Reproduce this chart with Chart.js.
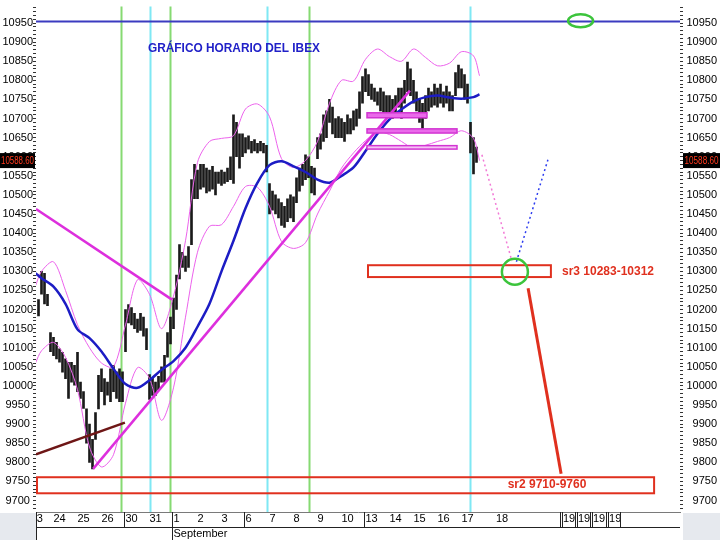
<!DOCTYPE html>
<html>
<head>
<meta charset="utf-8">
<title>Gráfico horario del IBEX</title>
<script src="https://cdn.jsdelivr.net/npm/chart.js@4/dist/chart.umd.min.js"></script>
<style>
  html, body { margin: 0; padding: 0; background: #fff; }
</style>
</head>
<body>
<canvas id="ibexChart" width="720" height="540"></canvas>
<script>
// x axis unit = one hourly bar (8 per session), 0 = first bar of 23 Aug
const firstBar = 3;

// hourly bars: highs and lows
const barHigh = [
  10226, 10300, 10295, 10240, 10140,                          // 23 Aug (last hours)
  10127, 10114, 10097, 10088, 10071, 10062, 10062, 10054,     // 24 Aug
  10088, 10010, 9985, 9940, 9900, 9860, 9930, 10028,          // 25 Aug
  10045, 10019, 10010, 10045, 10054, 10037, 10045, 10037,     // 26 Aug
  10200, 10213, 10205, 10190, 10175, 10190, 10180, 10150,     // 30 Aug
  10030, 10020, 10010, 10025, 10050, 10080, 10140, 10180,     // 31 Aug
  10230, 10290, 10370, 10350, 10340, 10365, 10540, 10580,     // 1 Sep
  10565, 10580, 10580, 10570, 10565, 10575, 10560, 10560,     // 2 Sep
  10565, 10560, 10570, 10600, 10710, 10690, 10660, 10660,     // 3 Sep
  10650, 10655, 10640, 10645, 10635, 10640, 10635, 10630,     // 6 Sep
  10530, 10510, 10500, 10490, 10480, 10470, 10490, 10500,     // 7 Sep
  10495, 10545, 10570, 10580, 10605, 10600, 10575, 10570,     // 8 Sep
  10650, 10660, 10710, 10720, 10750, 10730, 10700, 10705,     // 9 Sep
  10700, 10690, 10710, 10700, 10720, 10725, 10770, 10810,     // 10 Sep
  10830, 10815, 10790, 10780, 10770, 10780, 10770, 10760,     // 13 Sep
  10760, 10750, 10760, 10780, 10780, 10800, 10848, 10830,     // 14 Sep
  10800, 10770, 10750, 10740, 10760, 10780, 10770, 10790,     // 15 Sep
  10780, 10790, 10770, 10785, 10770, 10760, 10820, 10840,     // 16 Sep
  10830, 10815, 10790, 10690, 10650, 10625                    // 17 Sep
];
const barLow = [
  10183, 10240, 10215, 10210, 10090,
  10079, 10071, 10062, 10036, 10019, 9967, 10010, 10002,
  9985, 9967, 9941, 9850, 9800, 9783, 9860, 9940,
  9985, 9950, 9976, 9959, 9985, 9967, 9959, 9959,
  10090, 10165, 10160, 10150, 10140, 10145, 10130, 10095,
  9965, 9975, 9975, 9990, 10010, 10010, 10075, 10110,
  10150, 10200, 10280, 10310, 10300, 10310, 10370, 10490,
  10490, 10515, 10520, 10505, 10510, 10515, 10500, 10530,
  10525, 10530, 10535, 10540, 10530, 10600, 10570, 10600,
  10610, 10620, 10610, 10615, 10610, 10615, 10610, 10560,
  10450, 10460, 10450, 10440, 10420, 10415, 10430, 10440,
  10430, 10480, 10510, 10525, 10540, 10545, 10505, 10500,
  10595, 10620, 10640, 10650, 10690, 10660, 10650, 10650,
  10650, 10640, 10660, 10660, 10670, 10680, 10700, 10740,
  10770, 10760, 10750, 10745, 10735, 10720, 10710, 10700,
  10710, 10700, 10715, 10730, 10700, 10740, 10770, 10760,
  10740, 10720, 10690, 10670, 10700, 10720, 10730, 10735,
  10730, 10740, 10730, 10740, 10720, 10720, 10760, 10780,
  10780, 10750, 10740, 10610, 10555, 10585
];

// moving average and bands, read every 4 bars
const bandAt = [2, 4, 8, 12, 16, 20, 24, 28, 32, 36, 40, 44, 48, 52, 56, 60, 64, 68, 72, 76,
  80, 84, 88, 92, 96, 100, 104, 108, 112, 116, 120, 124, 128, 132, 136, 140, 144, 148, 150];
const maLine = [10295, 10282, 10260, 10215, 10148, 10125, 10090, 10045, 10005, 9995, 10015, 10042,
  10065, 10100, 10155, 10215, 10300, 10380, 10465, 10532, 10578, 10588, 10575, 10560, 10540, 10532,
  10550, 10572, 10615, 10660, 10698, 10724, 10745, 10756, 10760, 10755, 10752, 10756, 10763];
const bandUpper = [10262, 10300, 10325, 10250, 10160, 10100, 10060, 10050, 10160, 10278, 10240, 10150,
  10235, 10380, 10585, 10640, 10648, 10655, 10725, 10738, 10705, 10595, 10572, 10590, 10640, 10740,
  10800, 10798, 10855, 10882, 10862, 10850, 10882, 10860, 10838, 10845, 10875, 10864, 10812];
const bandLower = [10060, 10092, 10114, 10075, 9990, 9840, 9788, 9820, 9955, 10048, 10020, 9910,
  9995, 10180, 10350, 10418, 10422, 10470, 10522, 10520, 10470, 10378, 10360, 10375, 10450, 10510,
  10570, 10610, 10642, 10665, 10658, 10640, 10622, 10630, 10640, 10650, 10668, 10648, 10590];

// drawn lines: [bar, index] end points
const fallLine = [[2.17, 10463], [47.5, 10226]];
const riseLine = [[21.2, 9783], [126.8, 10773]];
const baseLine = [[2.17, 9821], [31.8, 9904]];
const topLevel = [[2.17, 10954], [216.83, 10954]];
const pathDown = [[150.8, 10605], [160.8, 10327]];
const pathUp = [[162.3, 10325], [172.8, 10592]];
const arrowSr2 = [[166.2, 10256], [177.2, 9770]];

// zones
const pinkFrom = [112.5, 112.5, 112.5];
const pinkTo = [132.5, 142.5, 142.5];
const pinkHigh = [10715, 10673, 10629];
const pinkLow = [10702, 10662, 10620];
const srNames = ['sr3 10283-10312', 'sr2 9710-9760'];
const srFrom = [112.5, 2.17];
const srTo = [173.8, 208.2];
const srHigh = [10316, 9761];
const srLow = [10285, 9719];
const srTextAt = [[177.5, 10300], [172.5, 9742]];

const greenMarks = [30.5, 46.7, 93.1];
const cyanMarks = [40.2, 79.3, 146.8];
const lastPrice = 10588.60;
const title = 'GRÁFICO HORARIO DEL IBEX';
const titleAt = [39.5, 10882];
const circleAt = [161.8, 10299];
const ovalAt = [183.7, 10955.7];

// axis labels
const dayTickAt = [2.4, 8, 16, 24, 32, 40, 48, 56, 64, 72, 80, 88, 96, 104, 112, 120, 128, 136, 144,
  155.5, 177.8, 182.8, 187.8, 193.2];
const dayTickText = ['3', '24', '25', '26', '30', '31', ['1', 'September'], '2', '3', '6', '7', '8', '9',
  '10', '13', '14', '15', '16', '17', '18', '19', '19', '19', '19'];
const weekBreaks = [31.5, 71.5, 111.5];
const monthBreak = 47.5;
const futureBreaks = [177.1, 182.1, 187.1, 192.4];
const futureEnd = 196.8;

const yTicks = [];
for (let v = 9680; v <= 10990; v += 10) yTicks.push(v);

const FONT = "'Liberation Sans', Arial, sans-serif";

const pts = arr => arr.map(p => ({ x: p[0], y: p[1] }));

function lineSet(arr, color, width, extra) {
  return Object.assign({
    type: 'line',
    data: pts(arr),
    borderColor: color,
    borderWidth: width,
    pointRadius: 0,
    fill: false,
    order: 3
  }, extra || {});
}

const overlay = {
  id: 'overlay',
  beforeDraw(chart) {
    const ctx = chart.ctx;
    ctx.save();
    ctx.fillStyle = '#ffffff';
    ctx.fillRect(0, 0, chart.width, chart.height);
    ctx.restore();
  },
  beforeDatasetsDraw(chart) {
    const { ctx, chartArea: a, scales: { x } } = chart;
    ctx.save();
    ctx.lineWidth = 2;
    const vline = (v, c) => {
      const px = Math.round(x.getPixelForValue(v)) + 0.5;
      ctx.strokeStyle = c;
      ctx.beginPath();
      ctx.moveTo(px, a.top);
      ctx.lineTo(px, a.bottom);
      ctx.stroke();
    };
    greenMarks.forEach(v => vline(v, '#86da72'));
    cyanMarks.forEach(v => vline(v, '#7fe8f4'));
    ctx.restore();
  },
  afterDatasetsDraw(chart) {
    const { ctx, chartArea: a, scales: { x, y } } = chart;
    ctx.save();
    ctx.beginPath();
    ctx.rect(a.left, a.top, a.right - a.left, a.bottom - a.top);
    ctx.clip();

    // magenta zones
    pinkFrom.forEach((f, k) => {
      const x0 = x.getPixelForValue(f), x1 = x.getPixelForValue(pinkTo[k]);
      const y0 = y.getPixelForValue(pinkHigh[k]), y1 = y.getPixelForValue(pinkLow[k]);
      ctx.fillStyle = k < 2 ? '#ea6aea' : '#f5c2f5';
      ctx.fillRect(x0, y0, x1 - x0, y1 - y0);
      ctx.strokeStyle = '#d235d2';
      ctx.lineWidth = 1.5;
      ctx.strokeRect(x0, y0, x1 - x0, y1 - y0);
    });

    // support boxes
    ctx.strokeStyle = '#e0301e';
    ctx.lineWidth = 2;
    srFrom.forEach((f, k) => {
      const x0 = x.getPixelForValue(f), x1 = x.getPixelForValue(srTo[k]);
      const y0 = y.getPixelForValue(srHigh[k]), y1 = y.getPixelForValue(srLow[k]);
      ctx.strokeRect(x0 + 1, y0, x1 - x0 - 1, y1 - y0);
    });

    ctx.fillStyle = '#e0301e';
    ctx.font = 'bold 12px ' + FONT;
    ctx.textBaseline = 'middle';
    ctx.textAlign = 'left';
    ctx.fillText(srNames[0], x.getPixelForValue(srTextAt[0][0]), y.getPixelForValue(srTextAt[0][1]), 92);
    ctx.textAlign = 'center';
    ctx.fillText(srNames[1], x.getPixelForValue(srTextAt[1][0]), y.getPixelForValue(srTextAt[1][1]), 80);

    // title
    ctx.fillStyle = '#2121c8';
    ctx.textAlign = 'left';
    ctx.fillText(title, x.getPixelForValue(titleAt[0]), y.getPixelForValue(titleAt[1]), 172);

    // green marks
    ctx.strokeStyle = '#3cc43c';
    ctx.lineWidth = 2.5;
    ctx.beginPath();
    ctx.arc(x.getPixelForValue(circleAt[0]), y.getPixelForValue(circleAt[1]), 13, 0, Math.PI * 2);
    ctx.stroke();
    ctx.beginPath();
    ctx.ellipse(x.getPixelForValue(ovalAt[0]), y.getPixelForValue(ovalAt[1]), 12.5, 6.5, 0, 0, Math.PI * 2);
    ctx.stroke();
    ctx.restore();
  },
  afterDraw(chart) {
    const { ctx, chartArea: a, scales: { x, y } } = chart;
    ctx.save();

    // corners under the side axes
    ctx.fillStyle = '#e6e9ee';
    ctx.fillRect(0, a.bottom + 1, a.left, chart.height - a.bottom);
    ctx.fillRect(a.right + 3, a.bottom + 1, chart.width - a.right - 3, chart.height - a.bottom);

    // date ruler
    ctx.strokeStyle = '#222';
    ctx.lineWidth = 1;
    const mid = a.bottom + 15.5;
    ctx.beginPath();
    ctx.moveTo(a.left, mid);
    ctx.lineTo(a.right, mid);
    ctx.moveTo(a.left + 0.5, a.bottom);
    ctx.lineTo(a.left + 0.5, chart.height);
    weekBreaks.forEach(v => {
      const px = Math.round(x.getPixelForValue(v)) + 0.5;
      ctx.moveTo(px, a.bottom);
      ctx.lineTo(px, mid);
    });
    const mpx = Math.round(x.getPixelForValue(monthBreak)) + 0.5;
    ctx.moveTo(mpx, a.bottom);
    ctx.lineTo(mpx, chart.height);
    futureBreaks.forEach(v => {
      const px = Math.round(x.getPixelForValue(v)) + 0.5;
      ctx.moveTo(px - 1, a.bottom);
      ctx.lineTo(px - 1, mid);
      ctx.moveTo(px + 1, a.bottom);
      ctx.lineTo(px + 1, mid);
    });
    const epx = Math.round(x.getPixelForValue(futureEnd)) + 0.5;
    ctx.moveTo(epx, a.bottom);
    ctx.lineTo(epx, mid);
    ctx.stroke();

    // last price tags
    const py = y.getPixelForValue(lastPrice);
    ctx.fillStyle = '#000';
    ctx.fillRect(0, py - 8, a.left - 1, 15);
    ctx.fillRect(a.right + 3, py - 8, chart.width - a.right - 3, 15);
    ctx.fillStyle = '#ff3b1f';
    ctx.font = '10px ' + FONT;
    ctx.textAlign = 'center';
    ctx.textBaseline = 'middle';
    const txt = lastPrice.toFixed(2);
    ctx.fillText(txt, (a.left - 1) / 2, py, 33);
    ctx.fillText(txt, (a.right + 3 + chart.width) / 2, py, 34);
    ctx.restore();
  }
};

const yAxisBase = {
  type: 'linear',
  min: 9670,
  max: 10993,
  grid: { drawOnChartArea: false, drawTicks: true, tickLength: 3, tickColor: '#333', tickWidth: 1 },
  border: { display: false },
  afterBuildTicks: s => { s.ticks = yTicks.map(v => ({ value: v })); },
  ticks: {
    autoSkip: false,
    padding: 0,
    color: '#000',
    font: { family: FONT, size: 11 },
    callback: v => (v % 50 === 0 ? String(v) : '')
  }
};

new Chart(document.getElementById('ibexChart'), {
  type: 'bar',
  data: {
    datasets: [
      {
        type: 'bar',
        data: barHigh.map((h, k) => ({ x: firstBar + k, y: [barLow[k], h] })),
        backgroundColor: '#1a1a1a',
        barThickness: 2,
        borderWidth: 0,
        order: 10
      },
      {
        type: 'line',
        data: bandAt.map((v, k) => ({ x: v, y: bandUpper[k] })),
        borderColor: '#ec62ec', borderWidth: 1, pointRadius: 0, tension: 0.3, order: 8
      },
      {
        type: 'line',
        data: bandAt.map((v, k) => ({ x: v, y: bandLower[k] })),
        borderColor: '#ec62ec', borderWidth: 1, pointRadius: 0, tension: 0.3, order: 8
      },
      {
        type: 'line',
        data: bandAt.map((v, k) => ({ x: v, y: maLine[k] })),
        borderColor: '#1c1cc4', borderWidth: 2.5, pointRadius: 0, tension: 0.3, order: 6
      },
      lineSet(fallLine, '#dd2fdd', 2.5),
      lineSet(riseLine, '#dd2fdd', 2.5),
      lineSet(baseLine, '#6e1616', 2.5),
      lineSet(topLevel, '#3b3bc0', 2),
      lineSet(pathDown, '#f27ad6', 1.5, { borderDash: [2, 3] }),
      lineSet(pathUp, '#2c3cf0', 1.5, { borderDash: [2, 3] }),
      lineSet(arrowSr2, '#e0301e', 3)
    ]
  },
  options: {
    responsive: false,
    animation: false,
    devicePixelRatio: 1,
    layout: { autoPadding: false, padding: { left: 0, right: 3, top: 0, bottom: 0 } },
    plugins: { legend: { display: false }, tooltip: { enabled: false } },
    scales: {
      x: {
        type: 'linear',
        min: 2.1667,
        max: 216.8333,
        offset: false,
        grid: { display: false, drawTicks: false, offset: false },
        border: { display: true, color: '#7a7a7a' },
        afterBuildTicks: s => { s.ticks = dayTickAt.map(v => ({ value: v })); },
        afterFit: s => { s.height = 28; },
        ticks: {
          autoSkip: false,
          maxRotation: 0,
          minRotation: 0,
          align: 'start',
          padding: 0,
          labelOffset: 0,
          color: '#000',
          font: { family: FONT, size: 11, lineHeight: 1.35 },
          callback: (v, k) => dayTickText[k]
        }
      },
      y: Object.assign({}, yAxisBase, {
        position: 'left',
        afterFit: s => { s.width = 36; },
        ticks: Object.assign({}, yAxisBase.ticks, { crossAlign: 'center' })
      }),
      y2: Object.assign({}, yAxisBase, {
        position: 'right',
        afterFit: s => { s.width = 37; },
        ticks: Object.assign({}, yAxisBase.ticks, { crossAlign: 'far' })
      })
    }
  },
  plugins: [overlay]
});
</script>
</body>
</html>
